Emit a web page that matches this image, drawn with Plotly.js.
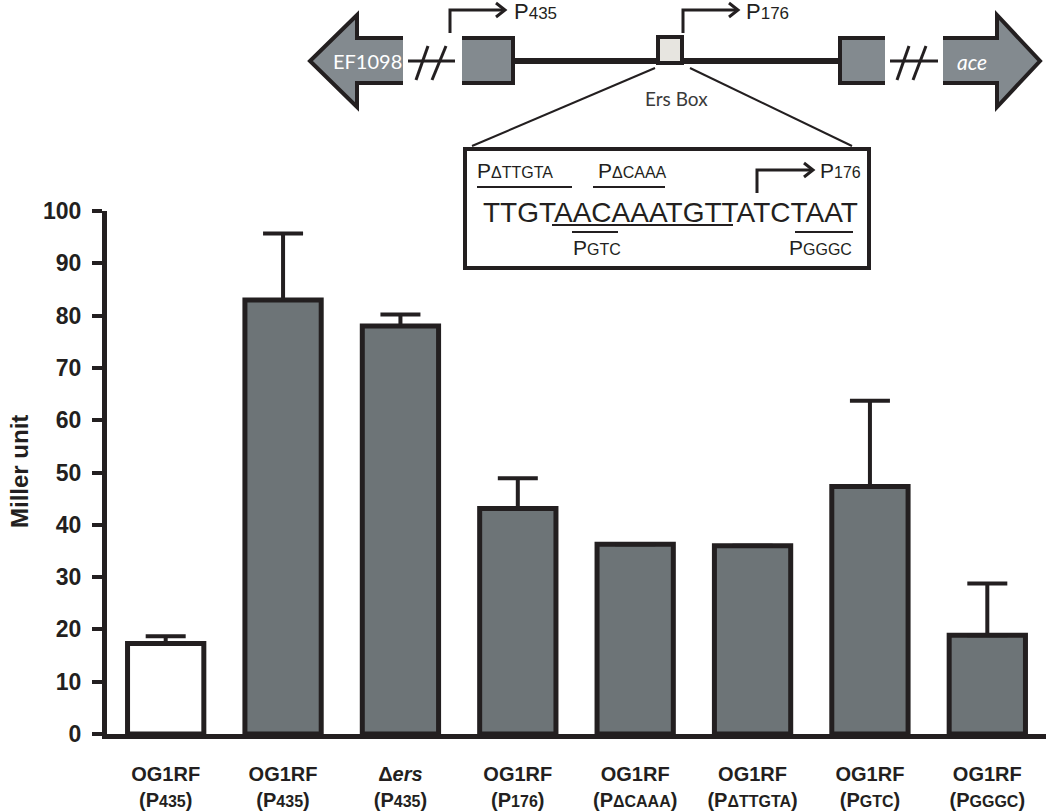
<!DOCTYPE html>
<html>
<head>
<meta charset="utf-8">
<script src="https://cdn.plot.ly/plotly-3.0.1.min.js"></script>
<style>
html, body { margin: 0; padding: 0; background: #fff; }
#chart { width: 1050px; height: 812px; }
</style>
</head>
<body>
<div id="chart"></div>
<script>
// strain and promoter of each reporter
var strains = ['OG1RF', 'OG1RF', '\u0394<i>ers</i>', 'OG1RF', 'OG1RF', 'OG1RF', 'OG1RF', 'OG1RF'];
var promoters = ['435', '435', '435', '176', '\u0394CAAA', '\u0394TTGTA', 'GTC', 'GGGC'];
var millerUnits = [17.3, 83.0, 78.0, 43.1, 36.3, 36.0, 47.3, 18.9];
var errUp = [1.4, 12.7, 2.2, 5.8, 0, 0, 16.4, 9.9];
var yTicks = [0, 10, 20, 30, 40, 50, 60, 70, 80, 90, 100];

var ink = '#231f20';
var barGray = '#6d7477';
var geneGray = '#838a8f';

// page is 1050x812 with zero margins, so paper coords are just pixels scaled
var W = 1050, H = 812;
function px(x) { return x / W; }
function py(y) { return 1 - y / H; }
function path(pts, close) {
	var s = '';
	for (var i = 0; i < pts.length; i++) {
		s += (i == 0 ? 'M' : 'L') + px(pts[i][0]) + ',' + py(pts[i][1]);
	}
	return close ? s + 'Z' : s;
}
function pathShape(pts, close, fill, lw) {
	return {
		type: 'path', xref: 'paper', yref: 'paper',
		path: path(pts, close),
		fillcolor: fill || 'rgba(0,0,0,0)',
		line: { color: ink, width: lw || 0 },
		layer: 'above'
	};
}
function small(t, size) {
	return "<span style='font-size:" + size + "px'>" + t + '</span>';
}
function label(text, x, y, opts) {
	opts = opts || {};
	return {
		xref: 'paper', yref: 'paper', x: px(x), y: py(y),
		text: text, showarrow: false,
		xanchor: opts.anchor || 'left', yanchor: 'middle',
		textangle: opts.angle || 0,
		font: {
			family: opts.family || 'Liberation Sans, Arial, sans-serif',
			size: opts.size || 20,
			color: opts.color || ink,
			weight: opts.weight || 'normal'
		}
	};
}

var xIdx = [];
var tickText = [];
var colors = [];
var i;
for (i = 0; i < millerUnits.length; i++) {
	xIdx.push(i);
	tickText.push(strains[i] + '<br>(P' + small(promoters[i], 16) + ')');
	colors.push(i == 0 ? '#ffffff' : barGray);
}

var data = [{
	type: 'bar',
	x: xIdx,
	y: millerUnits,
	width: 0.65,
	marker: { color: colors, line: { color: ink, width: 5 } },
	error_y: {
		type: 'data', symmetric: false,
		array: errUp,
		arrayminus: errUp.map(function() { return 0; }),
		color: ink, thickness: 4, width: 20
	},
	hoverinfo: 'skip'
}];

// gene map on top
var shapes = [];
// main line
shapes.push({ type: 'line', xref: 'paper', yref: 'paper', x0: px(513), y0: py(61), x1: px(840), y1: py(61), line: { color: ink, width: 6 }, layer: 'above' });
// EF1098 arrow
shapes.push(pathShape([[310, 61], [357, 15], [357, 38], [403, 38], [403, 83], [357, 83], [357, 107]], true, geneGray, 0));
shapes.push(pathShape([[403, 38], [357, 38], [357, 15], [310, 61], [357, 107], [357, 83], [403, 83]], false, null, 4));
// left break
shapes.push(pathShape([[408, 61], [455, 61]], false, null, 3));
shapes.push(pathShape([[416, 80], [428, 46]], false, null, 3));
shapes.push(pathShape([[432, 80], [446, 46]], false, null, 3));
// gene box 1
shapes.push(pathShape([[462, 38], [513, 38], [513, 83], [462, 83]], true, geneGray, 0));
shapes.push(pathShape([[462, 38], [513, 38], [513, 83], [462, 83]], false, null, 4));
// Ers box
shapes.push(pathShape([[658, 37], [682, 37], [682, 63], [658, 63]], true, '#e7e5e0', 4));
// gene box 2
shapes.push(pathShape([[840, 38], [885, 38], [885, 83], [840, 83]], true, geneGray, 0));
shapes.push(pathShape([[885, 38], [840, 38], [840, 83], [885, 83]], false, null, 4));
// right break
shapes.push(pathShape([[890, 61], [938, 61]], false, null, 3));
shapes.push(pathShape([[897, 80], [909, 46]], false, null, 3));
shapes.push(pathShape([[913, 80], [926, 46]], false, null, 3));
// ace arrow
shapes.push(pathShape([[943, 38], [997, 38], [997, 15], [1040, 61], [997, 107], [997, 83], [943, 83]], true, geneGray, 0));
shapes.push(pathShape([[943, 38], [997, 38], [997, 15], [1040, 61], [997, 107], [997, 83], [943, 83]], false, null, 4));
// promoter arrows
shapes.push(pathShape([[450, 33], [450, 10], [505, 10]], false, null, 3));
shapes.push(pathShape([[496, 3], [505, 10], [496, 17]], false, null, 3));
shapes.push(pathShape([[683, 33], [683, 10], [738, 10]], false, null, 3));
shapes.push(pathShape([[729, 3], [738, 10], [729, 17]], false, null, 3));
// zoom lines to inset
shapes.push(pathShape([[655, 68], [472, 146]], false, null, 2));
shapes.push(pathShape([[690, 68], [852, 146]], false, null, 2));
// inset box
shapes.push(pathShape([[465, 149], [869, 149], [869, 268], [465, 268]], true, null, 4));
// marks inside inset
shapes.push(pathShape([[477, 187], [572, 187]], false, null, 2));
shapes.push(pathShape([[593, 187], [665, 187]], false, null, 2));
shapes.push(pathShape([[757, 193], [757, 170], [813, 170]], false, null, 3));
shapes.push(pathShape([[804, 163], [813, 170], [804, 177]], false, null, 3));
shapes.push(pathShape([[552, 225], [733, 225]], false, null, 2));
shapes.push(pathShape([[572, 232], [618, 232]], false, null, 2));
shapes.push(pathShape([[795, 232], [853, 232]], false, null, 2));

var annotations = [];
annotations.push(label('Miller unit', 20, 472, { anchor: 'center', angle: -90, size: 24, weight: 'bold' }));
annotations.push(label('EF1098', 367, 61, { anchor: 'center', family: 'Lato, sans-serif', size: 20, color: '#ffffff' }));
annotations.push(label('<i>ace</i>', 972, 61, { anchor: 'center', family: 'Lato, sans-serif', size: 21, color: '#ffffff' }));
annotations.push(label('Ers Box', 676, 98, { anchor: 'center', family: 'Lato, sans-serif', size: 19, color: '#3a3a3a' }));
annotations.push(label('P' + small('435', 17), 512, 12, { size: 22 }));
annotations.push(label('P' + small('176', 17), 744, 12, { size: 22 }));
annotations.push(label('P' + small('\u0394TTGTA', 16), 475, 170, { size: 21 }));
annotations.push(label('P' + small('\u0394CAAA', 16), 596, 170, { size: 21 }));
annotations.push(label('P' + small('176', 16), 818, 170, { size: 21 }));
annotations.push(label('TTGTAACAAATGTTATCTAAT', 481, 212, { size: 28 }));
annotations.push(label('P' + small('GTC', 16), 597, 247, { anchor: 'center', size: 21 }));
annotations.push(label('P' + small('GGGC', 16), 820, 247, { anchor: 'center', size: 21 }));

var layout = {
	width: W,
	height: H,
	margin: { l: 0, r: 0, t: 0, b: 0, autoexpand: false },
	paper_bgcolor: '#ffffff',
	plot_bgcolor: '#ffffff',
	showlegend: false,
	hovermode: false,
	xaxis: {
		domain: [px(107), px(1046)],
		range: [-0.5, 7.5],
		tickvals: xIdx,
		ticktext: tickText,
		ticks: '',
		ticklabelstandoff: 18,
		showline: true, linewidth: 5, linecolor: ink,
		showgrid: false, zeroline: false, fixedrange: true,
		tickfont: { family: 'Liberation Sans, Arial, sans-serif', size: 20, color: ink, weight: 'bold' }
	},
	yaxis: {
		domain: [py(734), py(211)],
		range: [0, 100],
		tickvals: yTicks,
		ticks: 'outside', ticklen: 10, tickwidth: 4, tickcolor: ink,
		ticklabelstandoff: 6,
		showline: true, linewidth: 5, linecolor: ink,
		showgrid: false, zeroline: false, fixedrange: true,
		tickfont: { family: 'Liberation Sans, Arial, sans-serif', size: 23, color: ink, weight: 'bold' }
	},
	shapes: shapes,
	annotations: annotations
};

Plotly.newPlot('chart', data, layout, { displayModeBar: false, staticPlot: true });
</script>
</body>
</html>
